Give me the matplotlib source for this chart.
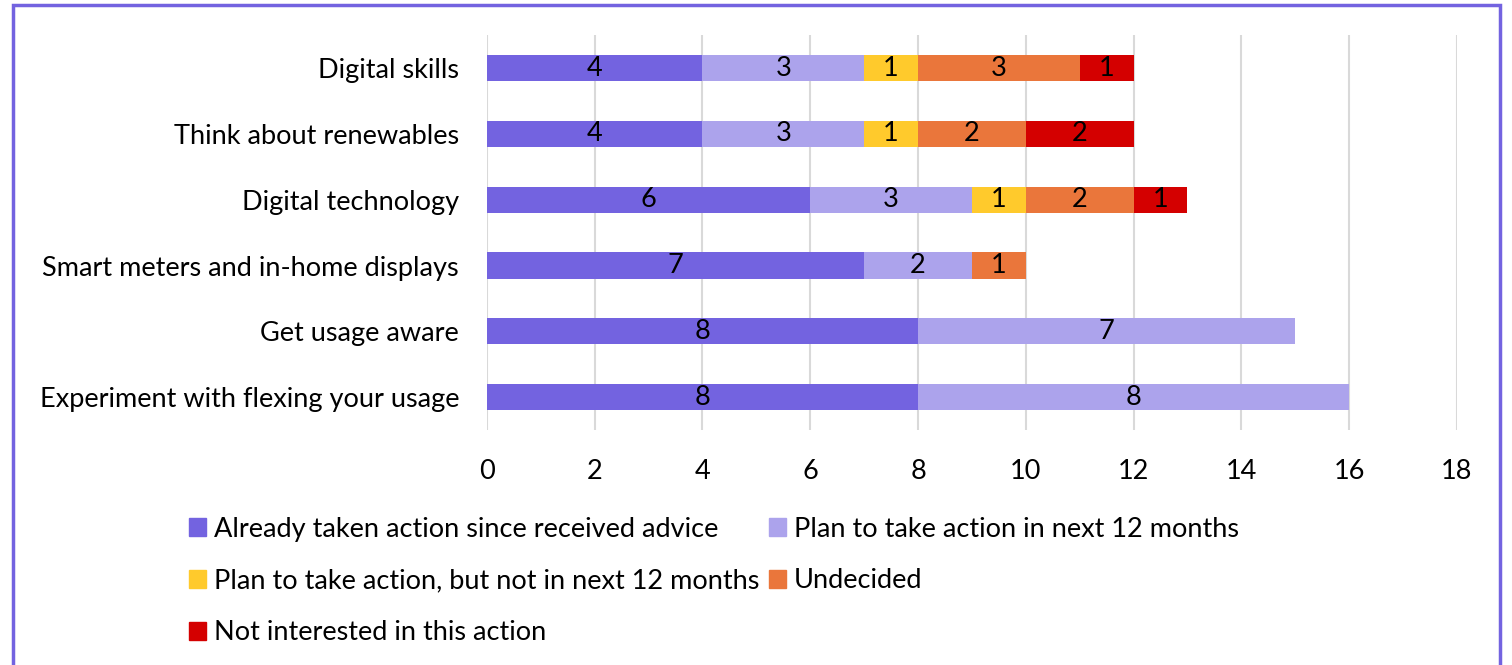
import matplotlib
matplotlib.use("Agg")
import matplotlib.pyplot as plt
from matplotlib.patches import Rectangle, Patch
import numpy as np

plt.rcParams["font.family"] = ["Lato", "DejaVu Sans"]

categories = ["Digital skills", "Think about renewables", "Digital technology",
              "Smart meters and in-home displays", "Get usage aware",
              "Experiment with flexing your usage"]
series_names = ["Already taken action since received advice",
                "Plan to take action in next 12 months",
                "Plan to take action, but not in next 12 months",
                "Undecided", "Not interested in this action"]
already = [4, 4, 6, 7, 8, 8]
plan_12 = [3, 3, 3, 2, 7, 8]
plan_later = [1, 1, 1, 0, 0, 0]
undecided = [3, 2, 2, 1, 0, 0]
not_interested = [1, 2, 1, 0, 0, 0]
colors = ["#7363E0", "#ACA3EC", "#FFCA2C", "#EA763B", "#D40000"]

series = [already, plan_12, plan_later, undecided, not_interested]
FS = 19.5

fig = plt.figure(figsize=(15.12, 6.65), dpi=100)
ax = fig.add_axes([0.322, 0.3534, 0.6416, 0.5936])

y = np.arange(len(categories))[::-1]
left = np.zeros(len(categories))
for vals, name, col in zip(series, series_names, colors):
    vals = np.array(vals, float)
    ax.barh(y, vals, left=left, height=0.4, color=col, label=name, zorder=3)
    for yi, l, v in zip(y, left, vals):
        if v > 0:
            ax.text(l + v / 2, yi, f"{int(v)}", ha="center", va="center",
                    fontsize=FS, color="black", zorder=4)
    left += vals

ax.set_xlim(0, 18)
ax.set_ylim(-0.5, len(categories) - 0.5)
ax.set_xticks(range(0, 19, 2))
ax.set_yticks(y)
ax.set_yticklabels(categories)
ax.tick_params(axis="x", length=0, pad=21, labelsize=FS)
ax.tick_params(axis="y", length=0, pad=20, labelsize=FS)
ax.grid(axis="x", color="#D9D9D9", lw=1.5, zorder=0)
for s in ax.spines.values():
    s.set_visible(False)

handles = [Patch(color=c, label=n) for c, n in zip(colors, series_names)]
order = [0, 2, 4, 1, 3]
fig.legend([handles[i] for i in order], [series_names[i] for i in order],
           ncol=2, loc="upper left", bbox_to_anchor=(0.116, 0.2436),
           frameon=False, fontsize=FS, borderpad=0, handlelength=0.63,
           handleheight=0.63, handletextpad=0.3, columnspacing=0.35,
           labelspacing=0.99)

fig.patches.append(Rectangle((13 / 1512, -0.05), 1487 / 1512, 1 - 5 / 665 + 0.05,
                             transform=fig.transFigure, fill=False,
                             edgecolor="#7363E0", lw=2.5))

fig.savefig("out.png", dpi=100)
